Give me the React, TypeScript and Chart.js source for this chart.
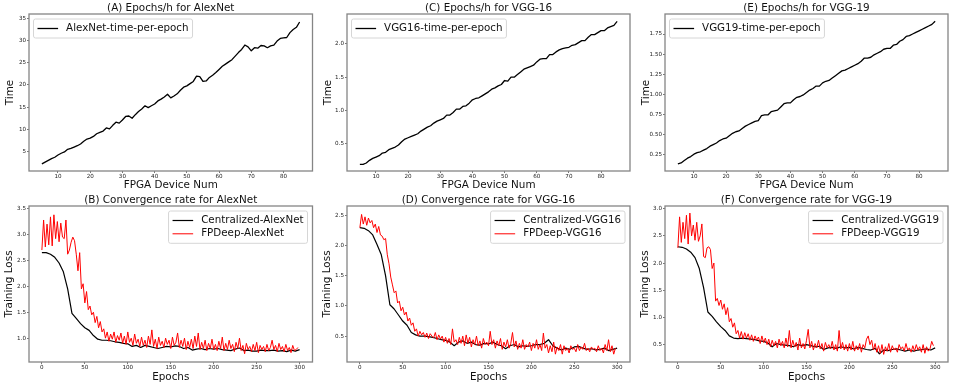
import React, { useEffect, useRef } from "react";
import { Chart, registerables } from "chart.js";

Chart.register(...registerables);

const FONT = "'DejaVu Sans', 'Liberation Sans', sans-serif";

// ---------- x domains ----------
const fpgaDevices = Array.from({ length: 81 }, (_, i) => i + 5);
const epochsDense = Array.from({ length: 150 }, (_, i) => i * 2);
const epochsSparse = Array.from({ length: 61 }, (_, i) => i * 5);

// ---------- tick labels ----------
const deviceTicks = [10, 20, 30, 40, 50, 60, 70, 80];
const epochTicks = [0, 50, 100, 150, 200, 250, 300];
const alexTimeTicks = [5, 10, 15, 20, 25, 30, 35];
const vgg16TimeTicks = [0.5, 1.0, 1.5, 2.0];
const vgg19TimeTicks = [0.25, 0.5, 0.75, 1.0, 1.25, 1.5, 1.75];
const alexLossTicks = [1.0, 1.5, 2.0, 2.5, 3.0, 3.5];
const vgg16LossTicks = [0.5, 1.0, 1.5, 2.0, 2.5];
const vgg19LossTicks = [0.5, 1.0, 1.5, 2.0, 2.5, 3.0];

// ---------- series: time per epoch (devices 5..85) ----------
const alexTime = [
  2.2, 2.6, 3.0, 3.4, 3.7, 4.2, 4.6, 4.9, 5.5, 5.7,
  6.0, 6.3, 6.7, 7.3, 7.8, 8.0, 8.4, 9.0, 9.3, 9.6,
  10.3, 10.1, 10.9, 11.6, 11.4, 12.1, 12.9, 13.0, 12.5, 13.3,
  14.0, 14.6, 15.3, 14.9, 15.3, 15.7, 16.4, 16.8, 17.3, 17.9,
  17.1, 17.5, 18.0, 18.8, 19.5, 19.8, 20.3, 20.8, 22.0, 21.9,
  20.8, 20.9, 21.7, 22.2, 22.8, 23.5, 24.2, 24.7, 25.2, 25.7,
  26.5, 27.3, 28.0, 29.0, 28.6, 27.7, 28.4, 28.3, 28.9, 28.8,
  28.4, 28.8, 29.0, 29.9, 30.5, 30.6, 30.7, 31.8, 32.5, 33.0,
  34.2,
];
const vgg16Time = [
  0.19, 0.19, 0.21, 0.25, 0.28, 0.30, 0.32, 0.36, 0.37, 0.41,
  0.43, 0.45, 0.48, 0.53, 0.57, 0.59, 0.61, 0.63, 0.65, 0.69,
  0.72, 0.75, 0.77, 0.81, 0.84, 0.86, 0.88, 0.93, 0.93, 0.97,
  1.02, 1.02, 1.06, 1.07, 1.11, 1.16, 1.18, 1.19, 1.22, 1.25,
  1.28, 1.32, 1.34, 1.37, 1.39, 1.45, 1.44, 1.50, 1.50, 1.54,
  1.58, 1.62, 1.64, 1.66, 1.68, 1.73, 1.77, 1.78, 1.78, 1.84,
  1.84, 1.88, 1.91, 1.93, 1.94, 1.95, 1.98, 1.99, 2.02, 2.05,
  2.05, 2.10, 2.14, 2.14, 2.17, 2.20, 2.20, 2.24, 2.26, 2.28,
  2.34,
];
const vgg19Time = [
  0.13, 0.14, 0.17, 0.20, 0.22, 0.25, 0.27, 0.28, 0.30, 0.32,
  0.35, 0.37, 0.39, 0.42, 0.44, 0.45, 0.48, 0.51, 0.53, 0.54,
  0.57, 0.60, 0.62, 0.64, 0.66, 0.67, 0.73, 0.74, 0.74, 0.78,
  0.79, 0.80, 0.84, 0.88, 0.89, 0.89, 0.93, 0.96, 0.97, 0.99,
  1.02, 1.05, 1.07, 1.10, 1.10, 1.14, 1.16, 1.17, 1.20, 1.23,
  1.26, 1.29, 1.30, 1.32, 1.34, 1.36, 1.38, 1.41, 1.45, 1.45,
  1.46, 1.49, 1.51, 1.53, 1.56, 1.57, 1.57, 1.61, 1.62, 1.66,
  1.68, 1.72, 1.73, 1.75, 1.77, 1.79, 1.81, 1.83, 1.85, 1.87,
  1.91,
];

// ---------- series: training loss ----------
// centralized: epochs 0,5,...,300
const centralAlex = [
  2.65, 2.65, 2.62, 2.56, 2.45, 2.28, 1.95, 1.48, 1.38, 1.28,
  1.20, 1.15, 1.05, 0.98, 0.96, 0.96, 0.95, 0.93, 0.92, 0.90,
  0.89, 0.84, 0.86, 0.82, 0.86, 0.84, 0.82, 0.80, 0.82, 0.84,
  0.83, 0.85, 0.84, 0.80, 0.82, 0.77, 0.79, 0.80, 0.78, 0.80,
  0.79, 0.80, 0.78, 0.77, 0.76, 0.79, 0.81, 0.76, 0.77, 0.75,
  0.75, 0.77, 0.76, 0.76, 0.77, 0.75, 0.76, 0.74, 0.77, 0.75,
  0.78,
];
// FPDeep: epochs 0,2,...,298
const fpdeepAlex = [
  2.70, 3.28, 2.76, 3.20, 2.80, 3.34, 2.78, 3.38, 2.92, 3.25,
  2.86, 3.22, 2.95, 2.92, 3.28, 2.62, 2.70, 2.85, 2.95, 2.88,
  2.62, 2.30, 2.65, 1.95, 2.05, 1.68, 1.90, 1.55, 1.62, 1.45,
  1.50, 1.30, 1.42, 1.20, 1.32, 1.12, 1.18, 1.00, 1.12, 0.94,
  1.08, 0.98, 1.12, 0.92, 1.05, 0.96, 1.10, 0.90, 1.04, 0.88,
  1.12, 0.92, 1.00, 0.86, 1.08, 0.90, 0.98, 0.84, 1.02, 0.86,
  0.96, 0.82, 1.04, 0.88, 1.16, 0.84, 0.98, 0.80, 1.02, 0.86,
  0.94, 0.82, 1.00, 0.88, 0.96, 0.80, 1.02, 0.86, 0.92, 1.10,
  0.82, 0.96, 0.84, 1.00, 0.78, 0.94, 0.82, 0.98, 0.80, 1.04,
  0.84, 1.10, 0.78, 0.92, 0.80, 0.96, 0.76, 0.90, 0.80, 0.98,
  0.78, 0.88, 0.76, 0.94, 0.80, 1.02, 0.76, 0.90, 0.78, 0.96,
  0.80, 0.88, 0.74, 0.92, 0.80, 1.00, 0.76, 0.86, 0.70, 0.90,
  0.78, 0.84, 0.74, 0.88, 0.76, 0.92, 0.72, 0.86, 0.78, 0.84,
  0.74, 0.88, 0.76, 0.82, 0.96, 0.78, 0.86, 0.74, 0.90, 0.78,
  0.84, 0.74, 0.88, 0.76, 0.82, 0.72, 0.86, 0.76, 0.78, 0.82,
];
const centralVgg16 = [
  2.30, 2.29, 2.25, 2.18, 2.02, 1.85, 1.50, 1.02, 0.95, 0.85,
  0.75, 0.68, 0.56, 0.52, 0.50, 0.50, 0.49, 0.48, 0.46, 0.44,
  0.43, 0.40, 0.34, 0.40, 0.42, 0.38, 0.40, 0.36, 0.35, 0.38,
  0.37, 0.40, 0.36, 0.34, 0.29, 0.34, 0.36, 0.32, 0.34, 0.33,
  0.34, 0.36, 0.36, 0.38, 0.44, 0.34, 0.30, 0.27, 0.30, 0.28,
  0.32, 0.33, 0.30, 0.28, 0.29, 0.27, 0.28, 0.30, 0.26, 0.28,
  0.30,
];
const fpdeepVgg16 = [
  2.30, 2.52, 2.36, 2.48, 2.34, 2.46, 2.38, 2.42, 2.30, 2.36,
  2.22, 2.32, 2.18, 2.16, 2.10, 2.12, 1.85, 1.70, 1.48, 1.35,
  1.22, 1.25, 1.05, 1.08, 0.92, 0.98, 0.85, 0.90, 0.75, 0.80,
  0.68, 0.72, 0.58, 0.62, 0.50, 0.58, 0.52, 0.56, 0.48, 0.55,
  0.46, 0.54, 0.50, 0.47, 0.56, 0.44, 0.52, 0.45, 0.50, 0.40,
  0.48, 0.38, 0.46, 0.36, 0.62, 0.40, 0.44, 0.36, 0.48, 0.38,
  0.50, 0.34, 0.52, 0.38, 0.48, 0.32, 0.44, 0.36, 0.50, 0.34,
  0.42, 0.30, 0.46, 0.36, 0.40, 0.34, 0.58, 0.36, 0.44, 0.30,
  0.42, 0.34, 0.46, 0.28, 0.40, 0.32, 0.44, 0.30, 0.38, 0.56,
  0.32, 0.42, 0.28, 0.38, 0.30, 0.44, 0.28, 0.36, 0.32, 0.40,
  0.26, 0.38, 0.30, 0.44, 0.28, 0.36, 0.26, 0.55, 0.30, 0.36,
  0.22, 0.34, 0.24, 0.40, 0.20, 0.32, 0.26, 0.36, 0.20, 0.34,
  0.26, 0.30, 0.22, 0.34, 0.28, 0.30, 0.24, 0.36, 0.26, 0.32,
  0.28, 0.38, 0.26, 0.30, 0.24, 0.32, 0.28, 0.30, 0.24, 0.34,
  0.26, 0.30, 0.22, 0.36, 0.26, 0.44, 0.24, 0.34, 0.20, 0.30,
];
const centralVgg19 = [
  2.30, 2.29, 2.26, 2.20, 2.10, 1.90, 1.55, 1.10, 1.02, 0.92,
  0.83, 0.76, 0.66, 0.62, 0.61, 0.62, 0.61, 0.60, 0.59, 0.57,
  0.56, 0.53, 0.46, 0.52, 0.50, 0.49, 0.48, 0.46, 0.50, 0.48,
  0.50, 0.48, 0.46, 0.47, 0.41, 0.44, 0.45, 0.43, 0.46, 0.44,
  0.45, 0.42, 0.45, 0.43, 0.41, 0.40, 0.43, 0.33, 0.40, 0.39,
  0.41, 0.42, 0.40, 0.38, 0.40, 0.38, 0.40, 0.41, 0.42, 0.40,
  0.44,
];
const fpdeepVgg19 = [
  2.28, 2.85, 2.38, 2.75, 2.45, 2.88, 2.35, 2.92, 2.50, 2.70,
  2.42, 2.75, 2.40, 2.50, 2.72, 2.12, 2.10, 2.28, 2.30, 2.25,
  1.90, 2.00, 1.30, 1.35, 1.22, 1.32, 1.15, 1.25, 1.05, 1.18,
  0.92, 0.98, 0.82, 0.90, 0.70, 0.76, 0.62, 0.74, 0.60, 0.72,
  0.62, 0.70, 0.58, 0.68, 0.56, 0.66, 0.58, 0.64, 0.52, 0.66,
  0.54, 0.62, 0.50, 0.60, 0.46, 0.58, 0.48, 0.56, 0.44, 0.60,
  0.48, 0.56, 0.44, 0.62, 0.46, 0.76, 0.44, 0.58, 0.46, 0.54,
  0.40, 0.62, 0.44, 0.52, 0.42, 0.58, 0.78, 0.44, 0.56, 0.40,
  0.52, 0.44, 0.58, 0.42, 0.52, 0.38, 0.54, 0.44, 0.50, 0.42,
  0.56, 0.40, 0.50, 0.38, 0.76, 0.42, 0.54, 0.40, 0.50, 0.38,
  0.52, 0.40, 0.56, 0.38, 0.48, 0.40, 0.52, 0.36, 0.50, 0.44,
  0.60, 0.66, 0.50, 0.58, 0.40, 0.52, 0.36, 0.48, 0.34, 0.50,
  0.32, 0.46, 0.38, 0.52, 0.36, 0.48, 0.40, 0.44, 0.36, 0.50,
  0.42, 0.46, 0.38, 0.52, 0.40, 0.44, 0.36, 0.48, 0.38, 0.50,
  0.40, 0.46, 0.36, 0.50, 0.34, 0.46, 0.38, 0.42, 0.56, 0.48,
];

// ---------- panel layout ----------
type Series = { label: string; xs: number[]; ys: number[]; color: string; width: number; order: number };
type PanelSpec = {
  id: string;
  title: string;
  xTitle: string;
  yTitle: string;
  xMin: number; xMax: number; xTicks: number[];
  yMin: number; yMax: number; yTicks: number[]; yDec: number;
  series: Series[];
  legendSide: "left" | "right";
  row: number; col: number;
};

const COL_LEFT = [0, 318, 636];
const COL_W = [318, 318, 319];
const COL_PAD_R = [5.5, 6, 7];
const ROW_TOP = [0, 194];
const ROW_H = [194, 194];
const ROW_PAD_T = [14, 12];
const ROW_XAXIS_H = [23, 26];
const ROW_XTITLE_PAD = [2.3, 4.8];
const ROW_YTITLE_PAD = [3.8, 2.8];

const panels: PanelSpec[] = [
  {
    id: "A", title: "(A) Epochs/h for AlexNet", xTitle: "FPGA Device Num", yTitle: "Time",
    xMin: 1, xMax: 89, xTicks: deviceTicks, yMin: 0.6, yMax: 36.0, yTicks: alexTimeTicks, yDec: 0,
    series: [{ label: "AlexNet-time-per-epoch", xs: fpgaDevices, ys: alexTime, color: "#000000", width: 1.3, order: 0 }],
    legendSide: "left", row: 0, col: 0,
  },
  {
    id: "C", title: "(C) Epochs/h for VGG-16", xTitle: "FPGA Device Num", yTitle: "Time",
    xMin: 1, xMax: 89, xTicks: deviceTicks, yMin: 0.09, yMax: 2.45, yTicks: vgg16TimeTicks, yDec: 1,
    series: [{ label: "VGG16-time-per-epoch", xs: fpgaDevices, ys: vgg16Time, color: "#000000", width: 1.3, order: 0 }],
    legendSide: "left", row: 0, col: 1,
  },
  {
    id: "E", title: "(E) Epochs/h for VGG-19", xTitle: "FPGA Device Num", yTitle: "Time",
    xMin: 1, xMax: 89, xTicks: deviceTicks, yMin: 0.04, yMax: 2.0, yTicks: vgg19TimeTicks, yDec: 2,
    series: [{ label: "VGG19-time-per-epoch", xs: fpgaDevices, ys: vgg19Time, color: "#000000", width: 1.3, order: 0 }],
    legendSide: "left", row: 0, col: 2,
  },
  {
    id: "B", title: "(B) Convergence rate for AlexNet", xTitle: "Epochs", yTitle: "Training Loss",
    xMin: -15, xMax: 315, xTicks: epochTicks, yMin: 0.54, yMax: 3.55, yTicks: alexLossTicks, yDec: 1,
    series: [
      { label: "Centralized-AlexNet", xs: epochsSparse, ys: centralAlex, color: "#000000", width: 1.2, order: 1 },
      { label: "FPDeep-AlexNet", xs: epochsDense, ys: fpdeepAlex, color: "#ff0000", width: 1.0, order: 0 },
    ],
    legendSide: "right", row: 1, col: 0,
  },
  {
    id: "D", title: "(D) Convergence rate for VGG-16", xTitle: "Epochs", yTitle: "Training Loss",
    xMin: -15, xMax: 315, xTicks: epochTicks, yMin: 0.07, yMax: 2.66, yTicks: vgg16LossTicks, yDec: 1,
    series: [
      { label: "Centralized-VGG16", xs: epochsSparse, ys: centralVgg16, color: "#000000", width: 1.2, order: 1 },
      { label: "FPDeep-VGG16", xs: epochsDense, ys: fpdeepVgg16, color: "#ff0000", width: 1.0, order: 0 },
    ],
    legendSide: "right", row: 1, col: 1,
  },
  {
    id: "F", title: "(F) Convergence rate for VGG-19", xTitle: "Epochs", yTitle: "Training Loss",
    xMin: -15, xMax: 315, xTicks: epochTicks, yMin: 0.18, yMax: 3.05, yTicks: vgg19LossTicks, yDec: 1,
    series: [
      { label: "Centralized-VGG19", xs: epochsSparse, ys: centralVgg19, color: "#000000", width: 1.2, order: 1 },
      { label: "FPDeep-VGG19", xs: epochsDense, ys: fpdeepVgg19, color: "#ff0000", width: 1.0, order: 0 },
    ],
    legendSide: "right", row: 1, col: 2,
  },
];

// ---------- plugin: frame, title, legend box ----------
const decorPlugin = {
  id: "decor",
  afterDatasetsDraw(chart: any, _args: any, opts: any) {
    const { ctx, chartArea: a } = chart;
    ctx.save();
    // frame
    ctx.strokeStyle = "#858585";
    ctx.lineWidth = 1.3;
    ctx.strokeRect(a.left, a.top, a.right - a.left, a.bottom - a.top);
    // title
    ctx.fillStyle = "#111111";
    ctx.font = `10.4px ${FONT}`;
    ctx.textAlign = "center";
    ctx.textBaseline = "alphabetic";
    ctx.fillText(opts.title, (a.left + a.right) / 2, a.top - 2.6);
    // legend
    const items = chart.data.datasets.map((d: any) => ({ label: d.label, color: d.borderColor, width: d.borderWidth }));
    ctx.font = `10.3px ${FONT}`;
    let tw = 0;
    items.forEach((it: any) => { tw = Math.max(tw, ctx.measureText(it.label).width); });
    const pad = 4, handle = 20.6, gap = 8, rowStep = 13.3;
    const bw = pad + handle + gap + tw + pad;
    const bh = 2 * pad + 11 + (items.length - 1) * rowStep;
    const bx = opts.side === "left" ? a.left + 4.5 : a.right - 5 - bw;
    const by = a.top + 5;
    const r = 2;
    ctx.beginPath();
    ctx.moveTo(bx + r, by);
    ctx.lineTo(bx + bw - r, by);
    ctx.arcTo(bx + bw, by, bx + bw, by + r, r);
    ctx.lineTo(bx + bw, by + bh - r);
    ctx.arcTo(bx + bw, by + bh, bx + bw - r, by + bh, r);
    ctx.lineTo(bx + r, by + bh);
    ctx.arcTo(bx, by + bh, bx, by + bh - r, r);
    ctx.lineTo(bx, by + r);
    ctx.arcTo(bx, by, bx + r, by, r);
    ctx.closePath();
    ctx.fillStyle = "rgba(255,255,255,0.85)";
    ctx.fill();
    ctx.strokeStyle = "#d6d6d6";
    ctx.lineWidth = 1;
    ctx.stroke();
    items.forEach((it: any, i: number) => {
      const cy = by + pad + 5.5 + i * rowStep;
      ctx.beginPath();
      ctx.strokeStyle = it.color;
      ctx.lineWidth = it.width;
      ctx.moveTo(bx + pad, cy);
      ctx.lineTo(bx + pad + handle, cy);
      ctx.stroke();
      ctx.fillStyle = "#111111";
      ctx.textAlign = "left";
      ctx.textBaseline = "middle";
      ctx.fillText(it.label, bx + pad + handle + gap, cy);
    });
    ctx.restore();
  },
};

function fmt(v: number, dec: number) {
  return Number(v).toFixed(dec);
}

function Panel({ spec }: { spec: PanelSpec }) {
  const ref = useRef<HTMLCanvasElement | null>(null);
  const w = COL_W[spec.col];
  const h = ROW_H[spec.row];
  useEffect(() => {
    if (!ref.current) return;
    const row = spec.row;
    const chart = new Chart(ref.current, {
      type: "line",
      data: {
        datasets: spec.series.map((s) => ({
          label: s.label,
          data: s.xs.map((x, i) => ({ x, y: s.ys[i] })),
          borderColor: s.color,
          backgroundColor: s.color,
          borderWidth: s.width,
          pointRadius: 0,
          tension: 0,
          fill: false,
          order: s.order,
          borderJoinStyle: "round" as const,
        })),
      },
      options: {
        animation: false,
        responsive: false,
        devicePixelRatio: 1,
        layout: { padding: { left: 0, right: COL_PAD_R[spec.col], top: ROW_PAD_T[row], bottom: 0 } },
        plugins: {
          legend: { display: false },
          title: { display: false },
          tooltip: { enabled: false },
          decor: { title: spec.title, side: spec.legendSide },
        } as any,
        scales: {
          x: {
            type: "linear",
            min: spec.xMin,
            max: spec.xMax,
            afterBuildTicks: (s: any) => { s.ticks = spec.xTicks.map((v) => ({ value: v })); },
            afterFit: (s: any) => { s.height = ROW_XAXIS_H[row]; },
            grid: { drawOnChartArea: false, drawTicks: true, tickLength: 2, tickColor: "#555555", tickWidth: 0.8 },
            border: { display: false },
            ticks: {
              font: { family: FONT, size: 5.6 },
              color: "#222222",
              padding: 0.5,
              maxRotation: 0,
              autoSkip: false,
              callback: (v: any) => fmt(v, 0),
            },
            title: {
              display: true,
              text: spec.xTitle,
              color: "#111111",
              font: { family: FONT, size: 10.4 },
              padding: { top: 0, bottom: ROW_XTITLE_PAD[row] },
            },
          },
          y: {
            type: "linear",
            min: spec.yMin,
            max: spec.yMax,
            afterBuildTicks: (s: any) => { s.ticks = spec.yTicks.map((v) => ({ value: v })); },
            afterFit: (s: any) => { s.width = 29; },
            grid: { drawOnChartArea: false, drawTicks: true, tickLength: 2, tickColor: "#555555", tickWidth: 0.8 },
            border: { display: false },
            ticks: {
              font: { family: FONT, size: 5.6 },
              color: "#222222",
              padding: 1,
              autoSkip: false,
              callback: (v: any) => fmt(v, spec.yDec),
            },
            title: {
              display: true,
              text: spec.yTitle,
              color: "#111111",
              font: { family: FONT, size: 10.4 },
              padding: { top: ROW_YTITLE_PAD[row], bottom: 0 },
            },
          },
        },
      },
      plugins: [decorPlugin],
    } as any);
    return () => chart.destroy();
  }, [spec]);
  return (
    <canvas
      ref={ref}
      width={w}
      height={h}
      style={{ position: "absolute", left: COL_LEFT[spec.col], top: ROW_TOP[spec.row], width: w, height: h }}
    />
  );
}

export default function App() {
  return (
    <div style={{ position: "absolute", left: 0, top: 0, width: 955, height: 388, background: "#ffffff", overflow: "hidden" }}>
      {panels.map((p) => (
        <Panel key={p.id} spec={p} />
      ))}
    </div>
  );
}
